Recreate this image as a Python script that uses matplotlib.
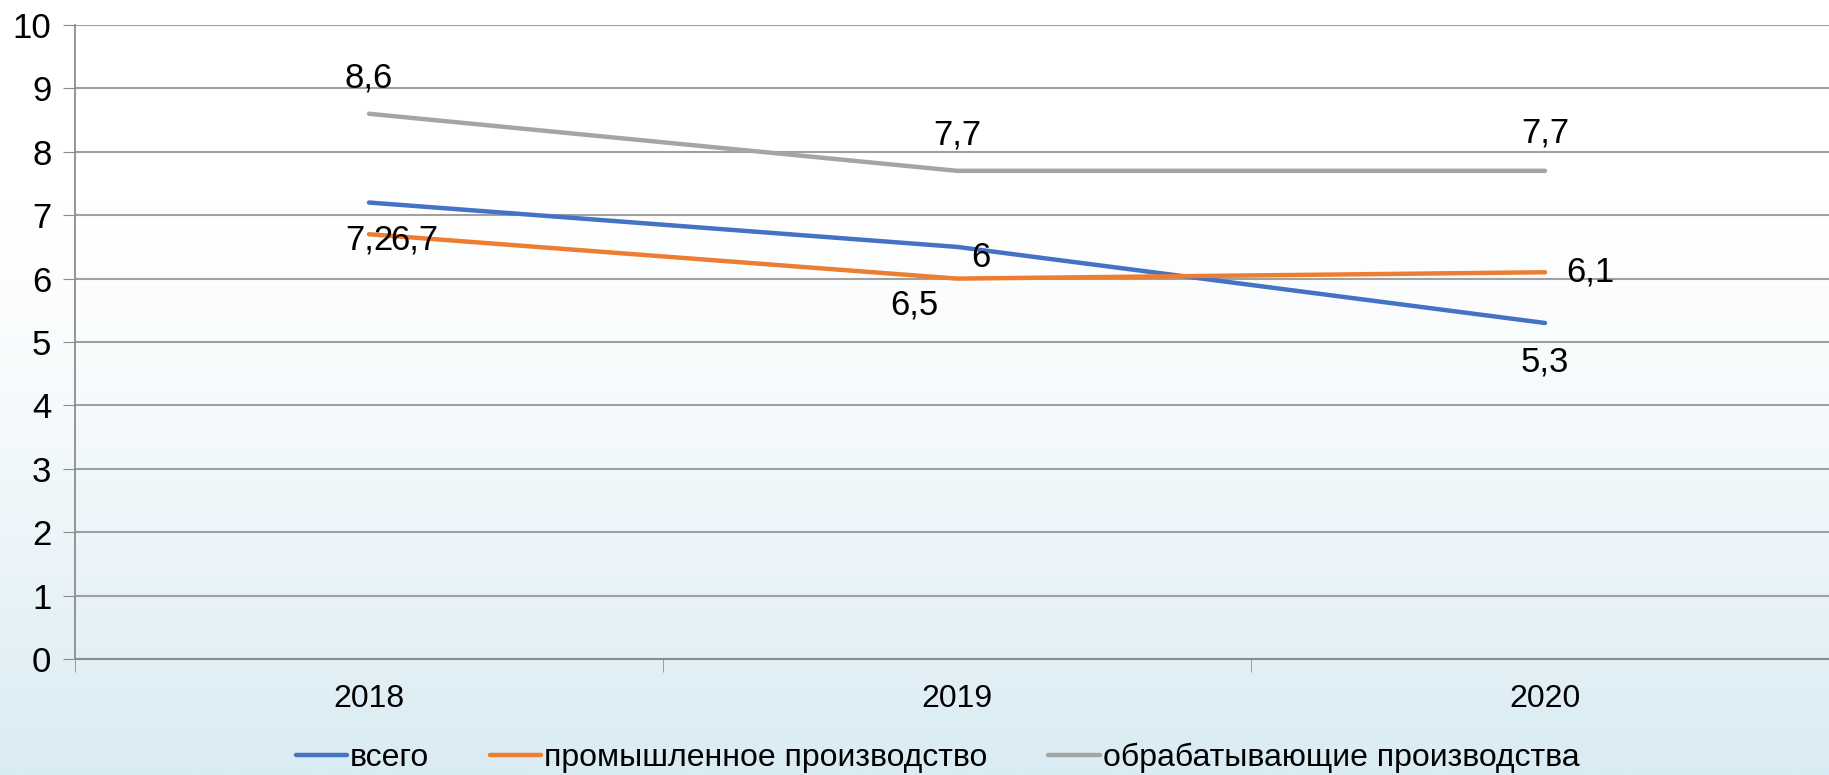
import numpy as np
import matplotlib.pyplot as plt

plt.rcParams['font.family'] = ['Liberation Sans', 'DejaVu Sans']

years = ['2018', '2019', '2020']
vsego = [7.2, 6.5, 5.3]
prom = [6.7, 6.0, 6.1]
obrab = [8.6, 7.7, 7.7]
names = ['всего', 'промышленное производство', 'обрабатывающие производства']
colors = ['#4472C4', '#ED7D31', '#A5A5A5']

# label offsets in pixels (dx, dy), per series and year
offs = [
    [(0, -37), (-43, -58), (0, -39)],
    [(45, -6), (24, 21), (45, 0)],
    [(0, 36), (0, 36), (0, 38)],
]

W, H = 1829, 775
fig = plt.figure(figsize=(W / 100, H / 100), dpi=100)

# background gradient: white on top, light blue at the bottom
bg = fig.add_axes([0, 0, 1, 1])
yy = np.linspace(0, 1, 400)
t = np.clip((yy - 0.26) / 0.74, 0, 1) ** 1.3
top = np.array([1.0, 1.0, 1.0])
bot = np.array([217, 235, 243]) / 255
grad = top[None, :] * (1 - t[:, None]) + bot[None, :] * t[:, None]
bg.imshow(grad[:, None, :], aspect='auto', extent=[0, 1, 1, 0])
bg.axis('off')

ax = fig.add_axes([75 / W, (H - 659) / H, (1839 - 75) / W, (659 - 25) / H])
ax.patch.set_alpha(0)

x = np.arange(len(years))
series = [vsego, prom, obrab]
for s, c, n in zip(series, colors, names):
    ax.plot(x, s, color=c, lw=3.2, label=n, solid_capstyle='round')

for s, o in zip(series, offs):
    for i, v in enumerate(s):
        lab = ('%g' % v).replace('.', ',')
        ax.annotate(lab, (x[i], v), xytext=o[i], textcoords='offset pixels',
                    ha='center', va='center', fontsize=25, color='black')

ax.set_xlim(-0.5, 2.5)
ax.set_ylim(0, 10)
ax.set_yticks(range(11))
ax.set_xticks(x)
ax.set_xticklabels(years)
ax.set_xticks([-0.5, 0.5, 1.5, 2.5], minor=True)
ax.tick_params(axis='x', which='major', length=0, pad=18, labelsize=23)
ax.tick_params(axis='x', which='minor', length=9, color='#8c8c8c', direction='out')
ax.tick_params(axis='y', length=9, color='#8c8c8c', labelsize=25, pad=8)
ax.grid(axis='y', color='#a0a0a0', lw=1.5)
ax.set_axisbelow(True)
for sp in ['top', 'right']:
    ax.spines[sp].set_visible(False)
ax.spines['left'].set_color('#8c8c8c')
ax.spines['bottom'].set_color('#8c8c8c')
ax.spines['left'].set_linewidth(1.3)
ax.spines['bottom'].set_linewidth(1.5)

fig.legend(loc='center', bbox_to_anchor=(0.5126, 1 - 758 / H), ncol=3, frameon=False,
           fontsize=23, handlelength=1.6, handletextpad=0.1, columnspacing=1.9)

fig.savefig('out.png', dpi=100)
